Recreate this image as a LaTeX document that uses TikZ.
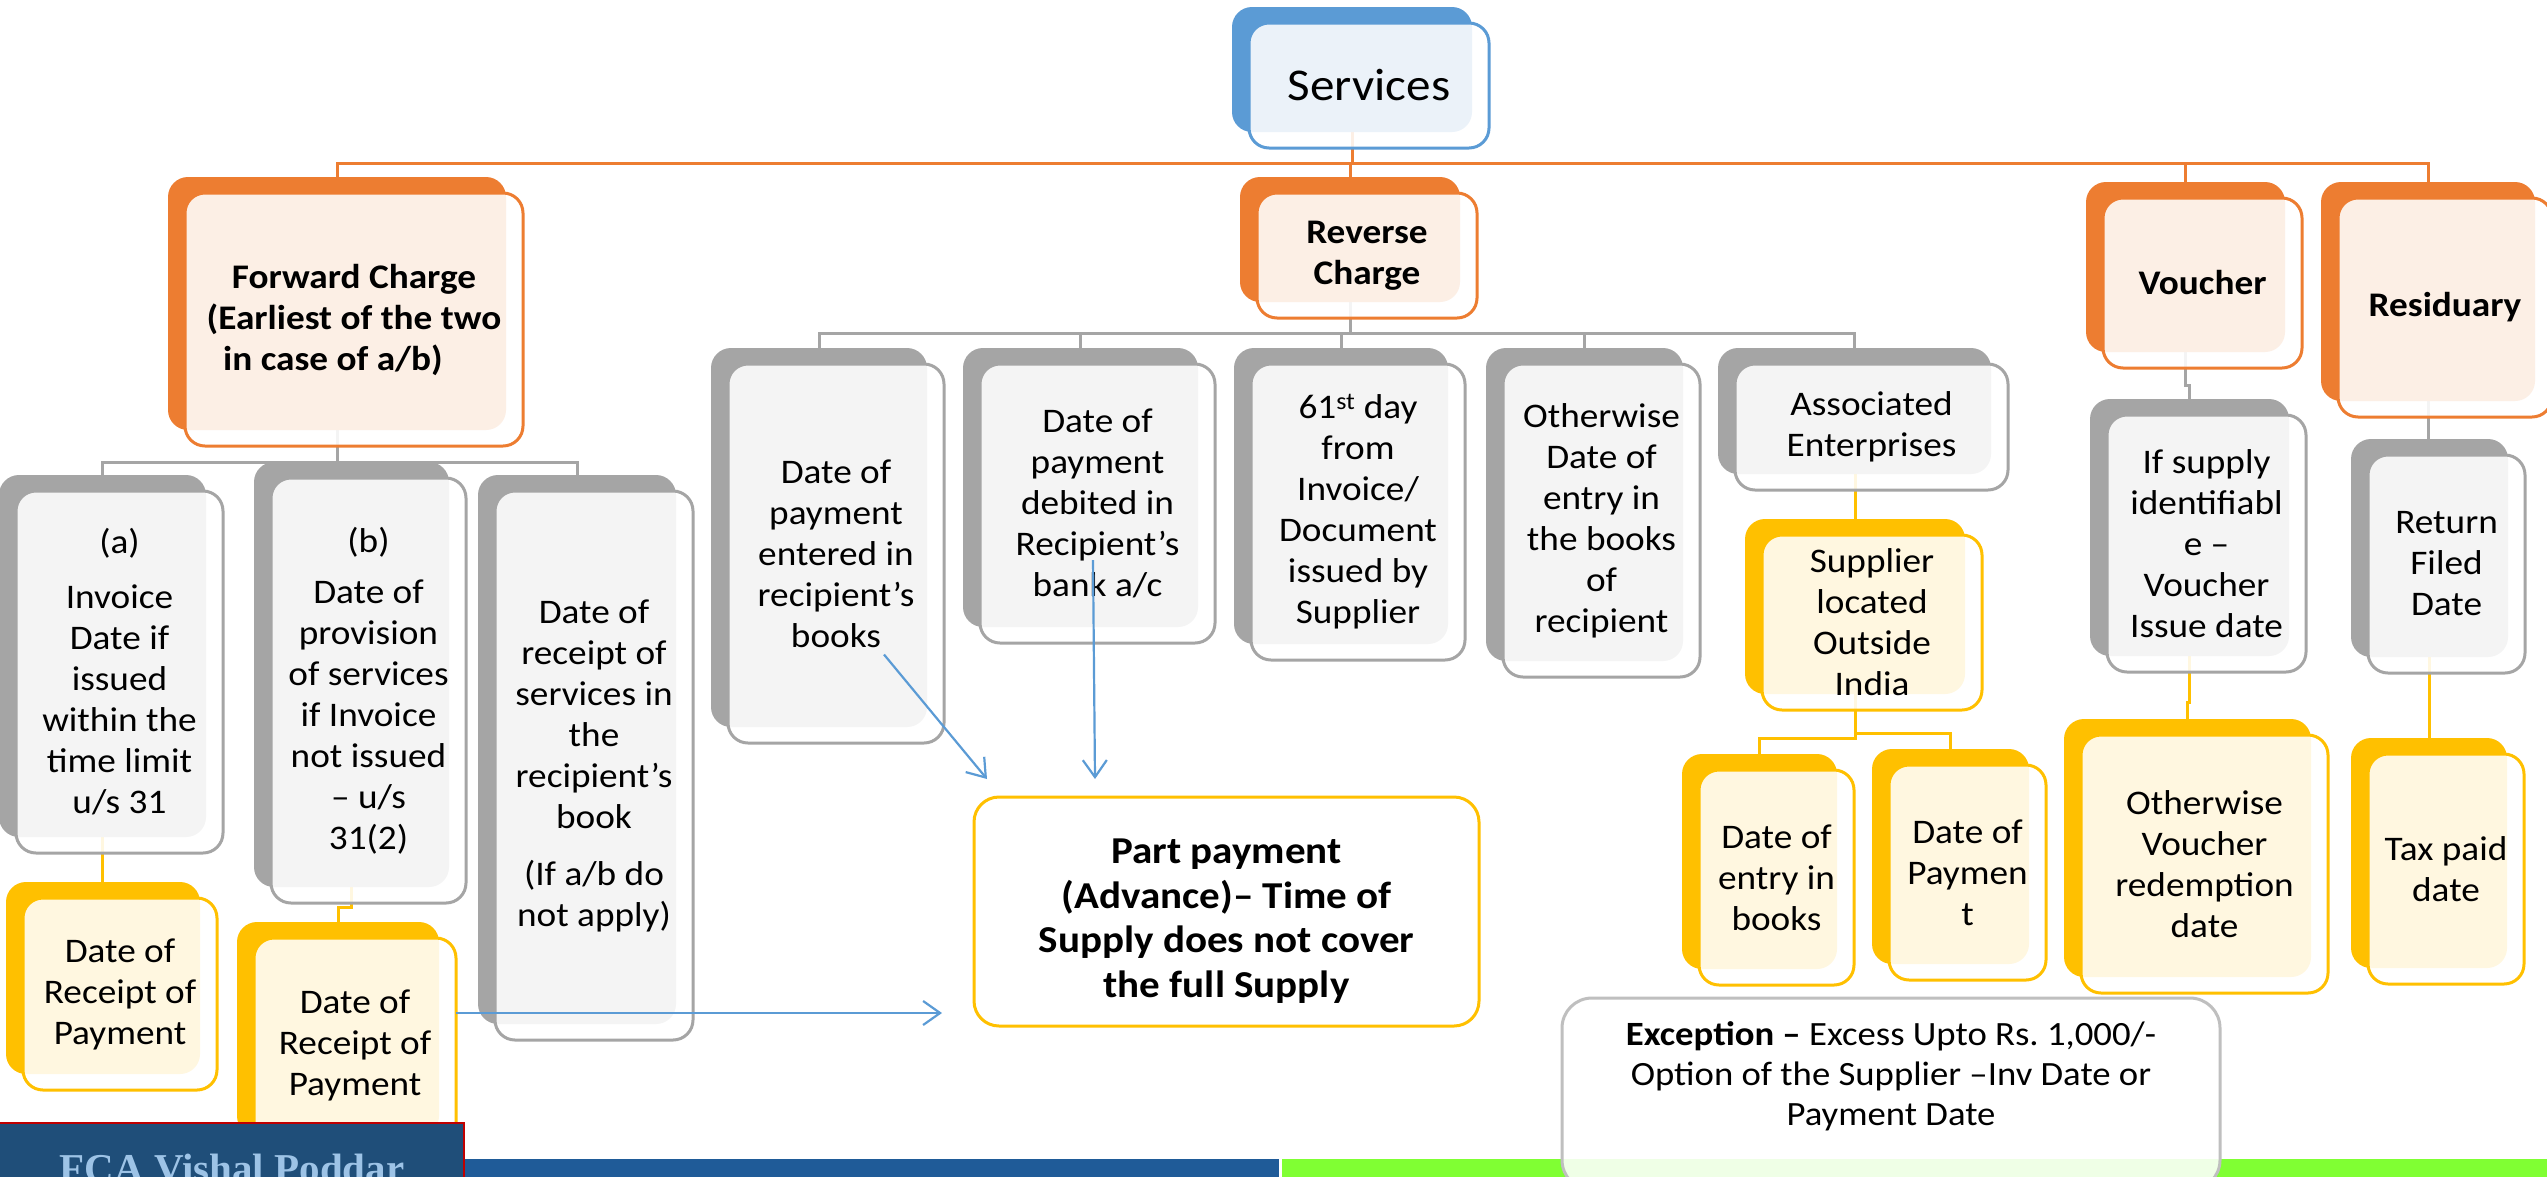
\documentclass[tikz,border=0pt]{standalone}
\usepackage{fontspec}
\setmainfont{Carlito}[FakeStretch=1.08]
\newfontfamily\fcafont{Liberation Serif}
\usetikzlibrary{arrows.meta,calc}
\frenchspacing

\pgfdeclarelayer{paper}
\pgfdeclarelayer{bg}
\pgfsetlayers{paper,bg,main}

\definecolor{cOrange}{HTML}{ED7D31}
\definecolor{cGray}{HTML}{A5A5A5}
\definecolor{cYellow}{HTML}{FFC000}
\definecolor{cBlue}{HTML}{5B9BD5}
\definecolor{cFrame}{HTML}{BFBFBF}
\definecolor{cBand}{HTML}{1F5B98}
\definecolor{cLime}{HTML}{80FF33}
\definecolor{cNavy}{HTML}{1F4E79}
\definecolor{cRed}{HTML}{C00000}
\definecolor{cPale}{HTML}{9DC3E6}

\newcommand\bodyfont{\fontsize{34.5}{41}\selectfont}
\newcommand\headfont{\bfseries\fontsize{34.5}{41}\selectfont}
\newcommand\topfont{\fontsize{45.5}{54}\selectfont}
\newcommand\ppfont{\bfseries\fontsize{38}{44.5}\selectfont}
\newcommand\excfont{\fontsize{34}{40}\selectfont}

\tikzset{
  backbox/.style={rectangle, rounded corners=20pt, inner sep=0pt, outer sep=0pt, fill=#1},
  frontbox/.style={rectangle, rounded corners=20pt, inner sep=0pt, outer sep=0pt,
    draw=#1, line width=3pt, fill=white, fill opacity=0.88, text opacity=1,
    align=center, text=black},
  link/.style={draw=#1, line width=3pt},
  pointer/.style={draw=cBlue, line width=2.2pt,
    -{Straight Barb[length=17pt,width=24pt,line width=2.2pt]}},
}

% #1 name, #2 colour, #3-#6 front rectangle (x1,y1,x2,y2), #7 font, #8 text
\newcommand\smartbox[8]{%
  \pgfmathsetmacro\bw{#5-#3}%
  \pgfmathsetmacro\bh{#6-#4}%
  \node[backbox=#2, minimum width=\bw pt, minimum height=\bh pt]
    (#1b) at ({(#3+#5)/2-17},{(#4+#6)/2-16}) {};
  \node[frontbox=#2, minimum width=\bw pt, minimum height=\bh pt, font=#7]
    (#1) at ({(#3+#5)/2},{(#4+#6)/2}) {#8};
}

\begin{document}
\begin{tikzpicture}[x=1pt,y=-1pt]
\useasboundingbox (0,0) rectangle (2547,1176);
\begin{pgfonlayer}{paper}
  \fill[white] (0,0) rectangle (2547,1176);
\end{pgfonlayer}
\clip (0,0) rectangle (2547,1176);

% ---- top level
\smartbox{svc}{cBlue}{1249}{23}{1489}{148}{\topfont}{Services}
\smartbox{fc}{cOrange}{185}{193}{523}{446}{\headfont}{Forward Charge\\(Earliest of the two\\\mbox{in case of a/b)\hspace{42pt}}}
\smartbox{rv}{cOrange}{1257}{193}{1477}{318}{\headfont}{Reverse\\Charge}
\smartbox{vch}{cOrange}{2103}{198}{2302}{368}{\headfont}{Voucher}
\smartbox{res}{cOrange}{2338}{198}{2552}{417}{\headfont}{Residuary}

% ---- forward charge
\smartbox{a}{cGray}{16}{491}{223}{853}{\bodyfont}{(a)\\[14pt]Invoice\\Date if\\issued\\within the\\time limit\\u/s 31}
\smartbox{b}{cGray}{271}{478}{466}{903}{\bodyfont}{(b)\\[10pt]Date of\\provision\\of services\\if Invoice\\not issued\\– u/s\\31(2)}
\smartbox{c}{cGray}{495}{491}{693}{1040}{\bodyfont}{Date of\\receipt of\\services in\\the\\recipient’s\\book\\[16pt](If a/b do\\not apply)}
\smartbox{yla}{cYellow}{23}{898}{217}{1090}{\bodyfont}{Date of\\Receipt of\\Payment}
\smartbox{ylb}{cYellow}{254}{938}{456}{1152}{\bodyfont}{Date of\\Receipt of\\Payment}

% ---- reverse charge
\smartbox{r1}{cGray}{728}{364}{944}{743}{\bodyfont}{Date of\\payment\\entered in\\recipient’s\\books}
\smartbox{r2}{cGray}{980}{364}{1215}{643}{\bodyfont}{Date of\\payment\\debited in\\Recipient’s\\bank a/c}
\smartbox{r3}{cGray}{1251}{364}{1465}{660}{\bodyfont}{61\textsuperscript{st} day\\from\\Invoice/\\Document\\issued by\\Supplier}
\smartbox{r4}{cGray}{1503}{364}{1700}{677}{\bodyfont}{Otherwise\\Date of\\entry in\\the books\\of\\recipient}
\smartbox{r5}{cGray}{1735}{364}{2008}{490}{\bodyfont}{Associated\\Enterprises}
\smartbox{sup}{cYellow}{1762}{535}{1982}{710}{\bodyfont}{Supplier\\located\\Outside\\India}
\smartbox{eb}{cYellow}{1699}{770}{1854}{985}{\bodyfont}{Date of\\entry in\\books}
\smartbox{dp}{cYellow}{1889}{765}{2046}{980}{\bodyfont}{Date of\\Paymen\\t}

% ---- voucher and residuary
\smartbox{vg}{cGray}{2107}{415}{2306}{672}{\bodyfont}{If supply\\identifiabl\\e –\\Voucher\\Issue date}
\smartbox{vy}{cYellow}{2081}{735}{2328}{993}{\bodyfont}{Otherwise\\Voucher\\redemption\\date}
\smartbox{rg}{cGray}{2368}{455}{2525}{673}{\bodyfont}{Return\\Filed\\Date}
\smartbox{ry}{cYellow}{2368}{754}{2524}{984}{\bodyfont}{Tax paid\\date}

% ---- part payment
\node[draw=cYellow, line width=3pt, rounded corners=25pt, fill=white,
      minimum width=505pt, minimum height=229pt, inner sep=0pt, outer sep=0pt]
  (pp) at (1226.5,911.5) {};
\node[font=\ppfont, align=center] (ppt) at (1226.5,921) {Part payment\\(Advance)– Time of\\Supply does not cover\\the full Supply};

% ---- connectors
\begin{pgfonlayer}{bg}
  \coordinate (busTop) at (0,163);
  \draw[link=cOrange] (svcb.south) -- (svcb.south |- busTop);
  \draw[link=cOrange] (fcb.north) -- (fcb.north |- busTop) -- (resb.north |- busTop) -- (resb.north);
  \draw[link=cOrange] (rvb.north) -- (rvb.north |- busTop);
  \draw[link=cOrange] (vchb.north) -- (vchb.north |- busTop);

  \coordinate (busFc) at (0,462);
  \draw[link=cGray] (fcb.south) -- (fcb.south |- busFc);
  \draw[link=cGray] (ab.north) -- (ab.north |- busFc) -- (cb.north |- busFc) -- (cb.north);
  \draw[link=cYellow] (ab.south) -- (ab.south |- ylab.north);
  \draw[link=cYellow] (bb.south) -- ++(0,20) -| (ylbb.north);

  \coordinate (busRc) at (0,333);
  \draw[link=cGray] (rvb.south) -- (rvb.south |- busRc);
  \draw[link=cGray] (r1b.north) -- (r1b.north |- busRc) -- (r5b.north |- busRc) -- (r5b.north);
  \foreach \k in {r2b,r3b,r4b}
    \draw[link=cGray] (\k.north) -- (\k.north |- busRc);
  \draw[link=cYellow] (supb.north) -- (supb.north |- r5b.south);
  \draw[link=cYellow] (supb.south) -- ++(0,44) -| (ebb.north);
  \draw[link=cYellow] (supb.south) -- ++(0,39) -| (dpb.north);

  \draw[link=cGray] (vchb.south) -- ++(0,33) -| (vgb.north);
  \draw[link=cYellow] (vgb.south) -- ++(0,46) -| (vyb.north);
  \draw[link=cGray] (resb.south) -- (resb.south |- rgb.north);
  \draw[link=cYellow] (rgb.south) -- (rgb.south |- ryb.north);
\end{pgfonlayer}

% ---- arrows into the part payment box
\coordinate (booksTail) at ($(r1.center)+(48,101)$);
\coordinate (booksHead) at ($(pp.north west)+(13,-18)$);
\draw[pointer] (booksTail) -- (booksHead);
\coordinate (bankTail) at ($(r2.center)+(-4.5,56.5)$);
\coordinate (bankHead) at ($(pp.north west)+(121,-18)$);
\draw[pointer] (bankTail) -- (bankHead);
\coordinate (payTail) at ($(ylb.east)+(0,-32)$);
\coordinate (payHead) at ($(pp.west |- payTail)+(-32,0)$);
\draw[pointer] (payTail) -- (payHead);

% ---- footer bands
\fill[cBand] (0,1159) rectangle (1279,1190);
\fill[cLime] (1282,1159) rectangle (2547,1190);
\draw[draw=cRed, fill=cNavy, line width=2.5pt] (-3,1123) rectangle (464,1195);
\node[anchor=base, text=cPale, font=\fcafont\bfseries\fontsize{41}{48}\selectfont]
  (fca) at (232,1182) {FCA Vishal Poddar};

% ---- exception note
\node[draw=cFrame, line width=3pt, rounded corners=30pt, fill=white, fill opacity=0.88,
      minimum width=658pt, minimum height=192pt, inner sep=0pt, outer sep=0pt]
  (exc) at (1891,1094) {};
\node[font=\excfont, align=center] (exct) at (1891,1076)
  {\textbf{Exception –} Excess Upto Rs. 1,000/-\\Option of the Supplier –Inv Date or\\Payment Date};
\end{tikzpicture}
\end{document}
